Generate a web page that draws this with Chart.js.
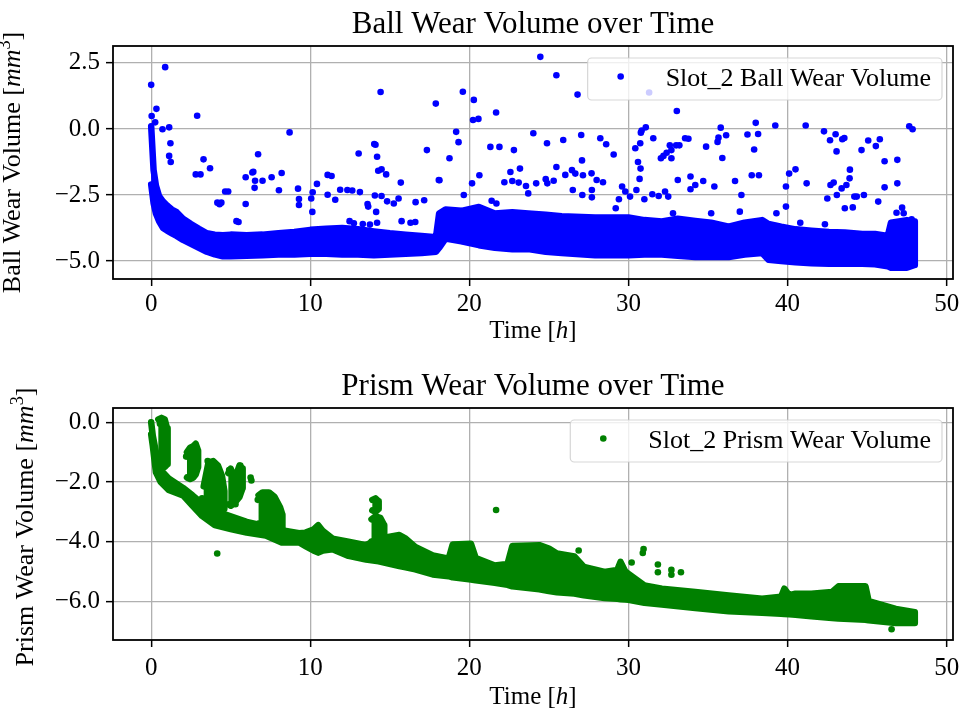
<!DOCTYPE html>
<html>
<head>
<meta charset="utf-8">
<script src="https://cdn.jsdelivr.net/npm/chart.js@4.4.1/dist/chart.umd.min.js"></script>
<style>
  body { margin: 0; background: #fff; }
  canvas { display: block; }
</style>
</head>
<body>
<canvas id="ball" width="973" height="355"></canvas>
<canvas id="prism" width="973" height="355"></canvas>
<script>
const timeTicks = [0, 10, 20, 30, 40, 50];
const ballTicks = [-5, -2.5, 0, 2.5];
const prismTicks = [-6, -4, -2, 0];

// dense part of the cloud: [time, upper edge, lower edge]
const ballBand = [
  [0, 0.1, -2.1], [0.15, -1.55, -2.8], [0.3, -2.15, -3.2], [0.5, -2.55, -3.5], [0.75, -2.75, -3.75],
  [1.0, -2.9, -3.85], [1.3, -3.05, -3.95], [1.6, -3.15, -4.05], [2.0, -3.4, -4.2], [2.5, -3.6, -4.35],
  [3.0, -3.78, -4.5], [3.5, -3.95, -4.65], [4.0, -4.0, -4.75], [4.5, -4.02, -4.82], [5.0, -4.0, -4.82],
  [6.0, -4.02, -4.8], [7.0, -4.0, -4.78], [8.0, -3.95, -4.75], [9.0, -3.9, -4.75], [10.0, -3.82, -4.72],
  [11.0, -3.78, -4.72], [12.0, -3.75, -4.75], [13.0, -3.8, -4.75], [14.0, -3.88, -4.78], [15.0, -3.95, -4.75],
  [16.0, -4.0, -4.72], [17.0, -4.05, -4.7], [17.9, -4.1, -4.65], [18.1, -3.2, -4.5], [18.5, -3.05, -4.15],
  [19.5, -3.1, -4.25], [20.6, -2.95, -4.4], [21.6, -3.2, -4.5], [22.7, -3.15, -4.55], [23.7, -3.2, -4.55],
  [24.8, -3.25, -4.65], [25.8, -3.3, -4.7], [27.9, -3.35, -4.78], [30.0, -3.35, -4.78], [31.0, -3.45, -4.75],
  [32.1, -3.5, -4.75], [33.1, -3.4, -4.8], [34.2, -3.48, -4.85], [35.2, -3.55, -4.85], [36.3, -3.7, -4.85],
  [37.3, -3.55, -4.75], [38.4, -3.45, -4.7], [38.8, -3.6, -4.95], [39.6, -3.7, -5.0], [40.5, -3.8, -5.05],
  [41.5, -3.85, -5.08], [42.6, -3.9, -5.1], [43.6, -3.92, -5.1], [44.7, -3.98, -5.1], [45.5, -3.98, -5.12],
  [46.3, -4.05, -5.2], [46.5, -3.55, -5.25], [47.5, -3.45, -5.25], [48.0, -3.5, -5.15]
];

// scattered points outside the dense part: [time, volume]
const ballPoints = [
  [0.0, 1.67], [0.88, 2.34], [0.03, 0.49], [0.33, 0.76], [0.25, 0.25], [0.71, -0.01], [1.13, 0.06], [1.21, -0.54], [1.13, -1.02], [1.23, -1.25],
  [2.89, 0.5], [2.8, -1.72], [3.1, -1.72], [3.29, -1.15], [3.7, -1.49], [4.16, -2.79], [4.41, -2.79], [4.3, -2.85], [4.65, -2.37], [4.84, -2.37],
  [5.36, -3.49], [5.49, -3.52], [5.94, -1.83], [5.94, -2.84], [6.36, -1.65], [6.42, -1.62], [6.53, -1.96], [6.5, -2.23], [6.72, -0.96], [7.0, -1.96],
  [7.57, -1.83], [8.03, -2.32], [8.2, -1.67], [8.7, -0.13], [9.23, -2.26], [9.29, -2.65], [9.29, -2.88], [10.06, -2.63], [10.13, -3.14], [10.15, -2.4],
  [10.42, -2.08], [11.09, -1.74], [11.34, -1.78], [11.09, -2.49], [11.57, -2.68], [11.88, -2.3], [12.33, -2.31], [12.64, -2.33], [13.12, -2.39], [13.04, -0.93],
  [12.47, -3.49], [12.74, -3.57], [13.3, -3.6], [13.75, -3.62], [14.2, -3.55], [14.02, -0.57], [14.1, -0.6], [14.42, 1.4], [14.2, -1.05], [14.27, -1.58],
  [14.48, -1.53], [14.77, -1.72], [14.06, -2.52], [14.48, -2.54], [13.6, -2.84], [13.64, -2.94], [14.14, -3.14], [14.83, -2.74], [15.25, -2.82], [15.55, -2.63],
  [15.69, -2.03], [15.74, -3.49], [16.62, -2.77], [16.3, -3.55], [16.6, -3.52], [17.16, -2.7], [17.33, -0.8], [17.89, 0.96], [18.12, -1.94], [18.75, -1.11],
  [24.46, 2.73], [25.47, 2.03], [31.3, 1.38], [19.59, 1.41], [26.8, 1.3], [20.28, 1.1], [21.68, 0.62], [20.23, 0.34], [20.57, 0.38], [33.04, 0.68],
  [19.17, -0.11], [19.32, -0.5], [21.32, -0.68], [21.89, -0.68], [22.8, -0.8], [24.02, -0.16], [24.88, -0.54], [25.9, -0.42], [27.03, -0.23], [27.08, -1.19],
  [28.23, -0.35], [28.6, -0.58], [29.07, -0.97], [20.63, -1.75], [22.58, -1.63], [23.18, -1.5], [25.47, -1.44], [26.03, -1.74], [26.45, -1.56], [26.66, -1.69],
  [27.14, -1.75], [27.68, -1.68], [30.43, -0.73], [30.74, -0.54], [30.6, -1.25], [30.76, -1.5], [30.83, -0.06], [31.09, 0.06], [30.78, -0.14], [31.56, -0.35],
  [32.04, -1.11], [32.2, -1.02], [32.4, -0.9], [32.6, -0.62], [32.7, -0.8], [32.7, -1.11], [33.0, -0.62], [33.2, -0.62], [33.56, -0.35], [33.77, -0.37],
  [35.8, 0.05], [35.66, -0.33], [35.6, -0.49], [36.14, -0.24], [34.88, -0.67], [35.9, -1.1], [38.0, 0.23], [37.48, -0.21], [38.15, -0.19], [37.9, -0.78],
  [39.23, 0.13], [41.14, 0.13], [42.29, -0.09], [42.67, -0.43], [43.02, -0.2], [43.44, -0.39], [43.57, -0.34], [43.08, -0.85], [44.65, -0.8], [45.07, -0.44],
  [45.55, -0.65], [45.8, -0.39], [46.1, -1.22], [46.9, -1.17], [47.65, 0.1], [47.86, -0.01], [40.1, -1.69], [40.5, -1.53], [37.75, -1.75], [38.2, -1.75],
  [43.92, -1.54], [18.08, -1.93], [19.65, -2.5], [20.17, -2.06], [21.4, -2.72], [21.7, -2.82], [22.2, -2.02], [22.7, -1.97], [23.1, -2.03], [23.56, -2.16],
  [23.7, -2.44], [24.2, -2.06], [24.8, -1.9], [24.9, -2.06], [25.3, -1.96], [26.5, -2.31], [27.1, -2.5], [27.7, -2.31], [27.7, -2.59], [28.0, -1.93],
  [28.4, -2.02], [29.2, -3.0], [29.4, -2.66], [29.6, -2.18], [29.8, -2.37], [30.1, -2.56], [30.5, -2.31], [30.7, -1.89], [31.0, -2.66], [31.5, -2.47],
  [31.9, -2.54], [32.3, -2.37], [32.5, -2.56], [33.1, -1.93], [33.9, -1.8], [34.2, -2.12], [33.9, -2.28], [34.7, -1.97], [35.4, -2.18], [32.8, -3.19],
  [35.2, -3.19], [36.7, -1.97], [37.1, -2.5], [37.0, -3.13], [39.3, -3.19], [39.9, -2.94], [39.9, -2.18], [40.8, -3.55], [41.2, -2.06], [42.35, -3.61],
  [42.5, -2.63], [42.7, -2.12], [42.9, -2.03], [43.1, -2.5], [43.4, -2.25], [43.7, -2.12], [43.6, -3.0], [44.1, -2.97], [43.9, -1.87], [44.2, -2.56],
  [44.35, -2.56], [44.8, -2.5], [45.7, -2.75], [46.1, -2.21], [46.9, -2.06], [46.85, -3.17], [47.2, -2.98], [47.3, -3.19], [47.8, -3.42]
];

const prismBand = [
  [0, 0.0, -0.4], [0.1, -0.45, -0.78], [0.3, -1.0, -1.68], [0.6, -1.6, -2.0], [1.1, -1.88, -2.27],
  [2.0, -2.2, -2.45], [2.6, -2.45, -2.8], [3.2, -2.72, -3.14], [4.0, -2.97, -3.45], [5.0, -3.15, -3.58],
  [6.0, -3.34, -3.7], [7.2, -3.48, -3.8], [8.2, -3.62, -4.03], [9.3, -3.72, -4.03], [9.7, -3.7, -4.15],
  [10.2, -3.6, -4.3], [10.5, -3.45, -4.37], [10.8, -3.65, -4.3], [11.4, -3.9, -4.26], [12.4, -4.0, -4.48],
  [13.5, -4.12, -4.6], [14.3, -3.9, -4.66], [15.6, -3.78, -4.82], [16.0, -3.9, -4.86], [16.6, -4.18, -4.93],
  [17.7, -4.46, -5.1], [18.7, -4.57, -5.16], [18.95, -4.1, -5.2], [20.1, -4.07, -5.27], [20.4, -4.55, -5.3],
  [21.6, -4.8, -5.38], [22.4, -4.75, -5.45], [22.7, -4.15, -5.5], [24.4, -4.12, -5.6], [25.0, -4.23, -5.66],
  [25.5, -4.4, -5.7], [26.6, -4.5, -5.74], [27.2, -4.85, -5.8], [28.5, -5.02, -5.89], [29.3, -4.95, -5.92],
  [29.5, -4.68, -5.93], [29.8, -5.0, -5.94], [30.0, -5.08, -5.95], [31.0, -5.47, -6.05], [32.1, -5.58, -6.11],
  [34.2, -5.69, -6.23], [36.3, -5.81, -6.34], [38.4, -5.92, -6.39], [39.6, -5.85, -6.42], [39.8, -5.58, -6.43],
  [40.1, -5.8, -6.44], [40.5, -5.75, -6.45], [41.5, -5.75, -6.5], [42.8, -5.69, -6.56], [43.2, -5.5, -6.58],
  [44.9, -5.5, -6.62], [45.1, -6.0, -6.64], [46.8, -6.26, -6.73], [48.0, -6.37, -6.73]
];

// solid clumps rising above the prism curve: [time, top, bottom]
const prismClumps = [
  [[0.45, 0.1, -1.4], [0.65, 0.15, -1.5], [0.85, 0.1, -1.5], [1.0, -0.2, -1.4], [1.05, -0.5, -1.2]],
  [[2.25, -1.0, -1.85], [2.45, -0.85, -1.9], [2.65, -0.8, -1.85], [2.8, -0.72, -1.75], [2.95, -0.95, -1.5]],
  [[3.3, -2.15, -2.9], [3.6, -1.35, -3.0], [3.9, -1.3, -3.05], [4.2, -1.45, -3.1], [4.45, -1.8, -3.0], [4.6, -2.3, -2.9]],
  [[4.85, -1.7, -2.75], [5.0, -1.55, -2.8], [5.25, -1.9, -2.7], [5.55, -1.45, -2.5], [5.75, -1.55, -2.2]],
  [[6.75, -2.45, -3.4], [7.0, -2.35, -3.5], [7.4, -2.35, -3.55], [7.75, -2.5, -3.6], [8.1, -2.85, -3.6], [8.25, -3.1, -3.6]],
  [[13.9, -2.6, -2.95], [14.1, -2.55, -3.0], [14.3, -2.65, -2.9]],
  [[13.85, -3.25, -4.0], [14.1, -3.15, -4.0], [14.4, -3.2, -4.0], [14.65, -3.45, -4.0]]
];

const prismPoints = [
  [0.55, -0.05], [0.95, -0.6], [2.2, -1.15], [2.9, -1.05], [3.55, -1.3], [4.35, -1.8], [3.2, -2.55], [4.5, -2.9],
  [4.9, -1.6], [5.6, -1.45], [5.3, -2.75], [6.25, -1.85], [6.3, -1.95], [6.7, -2.6], [8.1, -3.05], [8.0, -3.3],
  [4.15, -4.4], [14.45, -3.4], [14.4, -3.7],
  [21.68, -2.94], [26.87, -4.3], [30.95, -4.25], [30.9, -4.38], [30.2, -4.7], [31.85, -4.77], [31.85, -5.03], [32.7, -4.95], [32.7, -5.11], [33.3, -5.03],
  [46.54, -6.94]
];

const FONT = "'Liberation Serif', 'Times New Roman', serif";

function fmtVal(v) {
  return v < 0 ? '\u2212' + (-v).toFixed(1) : v.toFixed(1);
}

// text with italic / superscript pieces, centred on cx
function drawRich(ctx, parts, cx, y, size) {
  const fontOf = k => (k === 'i' ? 'italic ' : '') + (k === 's' ? size * 0.7 : size) + 'px ' + FONT;
  let total = 0;
  parts.forEach(([t, k]) => { ctx.font = fontOf(k); total += ctx.measureText(t).width; });
  let x = cx - total / 2;
  ctx.textAlign = 'left';
  ctx.textBaseline = 'alphabetic';
  ctx.fillStyle = '#000';
  parts.forEach(([t, k]) => {
    ctx.font = fontOf(k);
    ctx.fillText(t, x, k === 's' ? y - size * 0.38 : y);
    x += ctx.measureText(t).width;
  });
}

function decorations(cfg) {
  return {
    id: 'decor',
    afterDraw(chart) {
      const ctx = chart.ctx, a = chart.chartArea;
      ctx.save();
      ctx.strokeStyle = '#000';
      ctx.lineWidth = 1.8;
      ctx.strokeRect(a.left, a.top, a.right - a.left, a.bottom - a.top);

      // legend box inside the axes, top right
      ctx.font = '26px ' + FONT;
      const tw = ctx.measureText(cfg.legend).width;
      const w = tw + 89, h = 42, bx = a.right - 11 - w, by = a.top + 12;
      ctx.beginPath();
      ctx.roundRect(bx, by, w, h, 4);
      ctx.fillStyle = 'rgba(255,255,255,0.8)';
      ctx.fill();
      ctx.strokeStyle = 'rgba(204,204,204,0.8)';
      ctx.lineWidth = 1.2;
      ctx.stroke();
      ctx.beginPath();
      ctx.arc(bx + 33, by + 18.5, 3.3, 0, Math.PI * 2);
      ctx.fillStyle = cfg.color;
      ctx.fill();
      ctx.fillStyle = '#000';
      ctx.textAlign = 'left';
      ctx.textBaseline = 'alphabetic';
      ctx.fillText(cfg.legend, bx + 78, by + 27.5);

      ctx.font = '31px ' + FONT;
      ctx.textAlign = 'center';
      ctx.fillText(cfg.title, (a.left + a.right) / 2, a.top - 13);

      drawRich(ctx, [['Time [', ''], ['h', 'i'], [']', '']], (a.left + a.right) / 2, a.bottom + cfg.xLabelDy, 25);

      ctx.translate(cfg.yLabelX, (a.top + a.bottom) / 2 + cfg.yLabelDy);
      ctx.rotate(-Math.PI / 2);
      drawRich(ctx, [[cfg.yLabel + ' [', ''], ['mm', 'i'], ['3', 's'], [']', '']], 0, 0, 26);
      ctx.restore();
    }
  };
}

function makeChart(id, cfg) {
  // one closed outline per region: along the top edge, back along the bottom
  const region = rows => ({
    type: 'line',
    data: rows.map(r => ({ x: r[0], y: r[1] }))
      .concat(rows.slice().reverse().map(r => ({ x: r[0], y: r[2] }))),
    borderColor: cfg.color,
    backgroundColor: cfg.color,
    borderWidth: 6.5,
    pointRadius: 0,
    tension: 0,
    borderJoinStyle: 'round',
    borderCapStyle: 'round',
    fill: 'shape'
  });
  const datasets = [region(cfg.band)];
  (cfg.clumps || []).forEach(c => datasets.push(region(c)));
  datasets.push({
    type: 'scatter',
    data: cfg.points.map(p => ({ x: p[0], y: p[1] })),
    pointRadius: 3.3,
    pointHoverRadius: 3.3,
    backgroundColor: cfg.color,
    borderWidth: 0
  });

  return new Chart(document.getElementById(id), {
    type: 'scatter',
    data: { datasets },
    options: {
      responsive: false,
      animation: false,
      devicePixelRatio: 1,
      events: [],
      layout: { padding: { top: cfg.top, right: 20, left: 0, bottom: 0 } },
      plugins: { legend: { display: false }, tooltip: { enabled: false }, title: { display: false } },
      scales: {
        x: {
          type: 'linear',
          min: -2.4,
          max: 50.4,
          afterBuildTicks: s => { s.ticks = timeTicks.map(v => ({ value: v })); },
          afterFit: s => { s.height = cfg.xHeight; },
          grid: { color: '#b0b0b0', lineWidth: 1.3, tickColor: '#000', tickLength: 7, tickWidth: 1.5 },
          border: { display: false },
          ticks: { color: '#000', font: { family: FONT, size: 25 }, padding: cfg.xPad, maxRotation: 0, autoSkip: false, callback: v => String(v) }
        },
        y: {
          min: cfg.yMin,
          max: cfg.yMax,
          afterBuildTicks: s => { s.ticks = cfg.yTicks.map(v => ({ value: v })); },
          afterFit: s => { s.width = 113; },
          grid: { color: '#b0b0b0', lineWidth: 1.3, tickColor: '#000', tickLength: 7, tickWidth: 1.5 },
          border: { display: false },
          ticks: { color: '#000', font: { family: FONT, size: 25 }, padding: 6, autoSkip: false, callback: v => fmtVal(v) }
        }
      }
    },
    plugins: [decorations(cfg)]
  });
}

makeChart('ball', {
  band: ballBand, points: ballPoints, color: '#0000ff',
  yTicks: ballTicks, yMin: -5.68, yMax: 3.14, top: 46, xHeight: 76, xPad: 3,
  xLabelDy: 59, yLabelX: 19.5, yLabelDy: 0,
  title: 'Ball Wear Volume over Time', yLabel: 'Ball Wear Volume',
  legend: 'Slot_2 Ball Wear Volume'
});

makeChart('prism', {
  band: prismBand, clumps: prismClumps, points: prismPoints, color: '#008000',
  yTicks: prismTicks, yMin: -7.3, yMax: 0.48, top: 53, xHeight: 70, xPad: 6,
  xLabelDy: 64, yLabelX: 33, yLabelDy: 3,
  title: 'Prism Wear Volume over Time', yLabel: 'Prism Wear Volume',
  legend: 'Slot_2 Prism Wear Volume'
});
</script>
</body>
</html>
